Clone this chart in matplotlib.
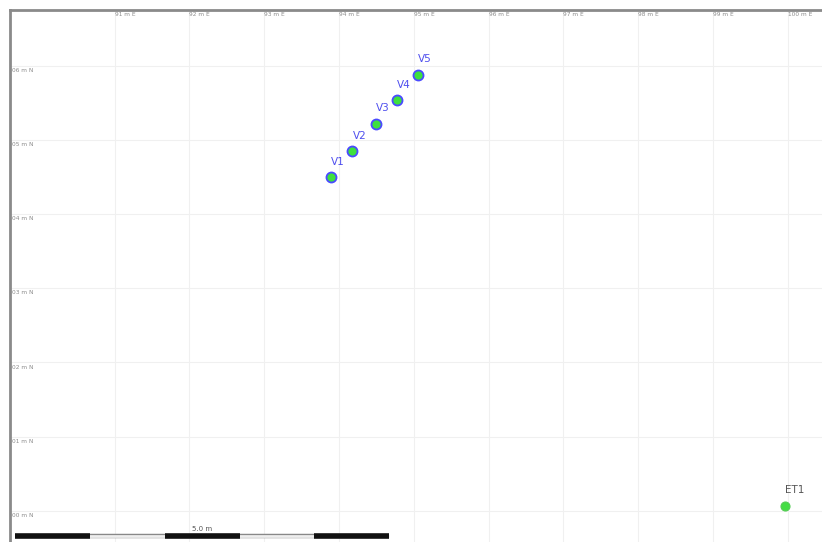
import matplotlib.pyplot as plt

# survey points (metres, local grid)
station_names = ["V1", "V2", "V3", "V4", "V5"]
station_east = [93.89, 94.18, 94.49, 94.78, 95.06]
station_north = [4.50, 4.85, 5.22, 5.54, 5.88]

base_name = "ET1"
base_east = [99.97]
base_north = [0.07]

east_ticks = [91, 92, 93, 94, 95, 96, 97, 98, 99, 100]
north_ticks = [0, 1, 2, 3, 4, 5, 6]

scale_length = 5.0
scale_segments = 5

fig = plt.figure(figsize=(8.22, 5.42), dpi=100)
ax = fig.add_axes([10 / 822, 0, 1 - 10 / 822, 1 - 10 / 542])
ax.set_xlim(89.6, 100.46)
ax.set_ylim(-0.42, 6.75)

for s in ["right", "bottom"]:
    ax.spines[s].set_visible(False)
for s in ["left", "top"]:
    ax.spines[s].set_color("#8a8a8a")
    ax.spines[s].set_linewidth(2)

ax.set_xticks(east_ticks)
ax.set_yticks(north_ticks)
ax.tick_params(length=0, labelleft=False, labelbottom=False)
ax.grid(True, color="#f0f0f0", linewidth=0.8)

# grid labels drawn inside the frame
for e in east_ticks:
    ax.text(e, 6.69, f"{e} m E", fontsize=4.2, color="#8c8c8c",
            ha="left", va="center")
for n in north_ticks:
    ax.text(89.63, n - 0.03, f"{n:02d} m N", fontsize=4.2, color="#8c8c8c",
            ha="left", va="top")

ax.scatter(station_east, station_north, s=52, facecolor="#3ee03e",
           edgecolor="#4a4aff", linewidth=1.3, zorder=3)
for name, e, n in zip(station_names, station_east, station_north):
    ax.annotate(name, (e, n), xytext=(5, 11), textcoords="offset points",
                fontsize=7.5, color="#4f4fee", ha="center", va="center")

ax.scatter(base_east, base_north, s=42, facecolor="#44dd44",
           edgecolor="#55cc55", linewidth=0.8, zorder=3)
ax.annotate(base_name, (base_east[0], base_north[0]), xytext=(7, 11),
            textcoords="offset points", fontsize=7.5, color="#555555",
            ha="center", va="center")

# scale bar
x0 = 89.67
yb = -0.34
step = scale_length / scale_segments
ax.plot([x0, x0 + scale_length], [yb, yb], color="#888888",
        linewidth=3.2, solid_capstyle="butt", zorder=3)
ax.plot([x0, x0 + scale_length], [yb, yb], color="#eeeeee",
        linewidth=2.0, solid_capstyle="butt", zorder=3)
for i in range(0, scale_segments, 2):
    ax.plot([x0 + i * step, x0 + (i + 1) * step], [yb, yb], color="#111111",
            linewidth=4, solid_capstyle="butt", zorder=4)
ax.text(x0 + scale_length / 2, yb + 0.1, f"{scale_length:.1f} m",
        fontsize=5, color="#555555", ha="center", va="center")

fig.savefig("out.png", dpi=100)
